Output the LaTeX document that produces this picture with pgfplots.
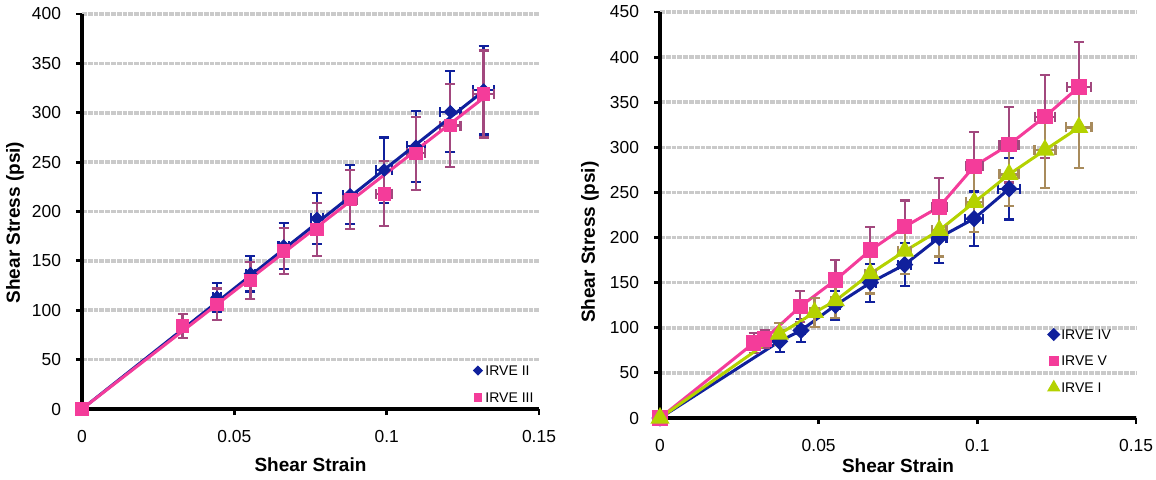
\documentclass[border=0pt]{standalone}
\usepackage{fontspec}
\setmainfont{Liberation Sans}
\usepackage{pgfplots}
\pgfplotsset{compat=1.18}
\definecolor{cblue}{HTML}{10209C}
\definecolor{cpink}{HTML}{F43C9A}
\definecolor{cgreen}{HTML}{B4D200}
\definecolor{ebpink}{HTML}{A2487E}
\definecolor{ebtan}{HTML}{A88B5C}
\definecolor{gridc}{HTML}{CACACA}

\pgfplotstableread{
x y ex ey
0 0 0 0
0.0443 113 0.0012 15
0.0553 137 0.0014 18
0.0662 165 0.0017 23
0.0771 193 0.0020 26
0.0880 217 0.0023 30
0.0992 242 0.0026 33
0.1096 266 0.0029 36
0.1209 301 0.0033 41
0.1318 323 0.0035 45
}\irveII
\pgfplotstableread{
x y ex ey
0 0 0 0
0.0330 84 0.0010 12
0.0443 106 0.0012 16
0.0553 130 0.0014 19
0.0662 160 0.0017 23
0.0771 182 0.0020 27
0.0880 212 0.0023 30
0.0992 218 0.0026 33
0.1096 259 0.0029 37
0.1209 287 0.0033 42
0.1318 319 0.0035 44
}\irveIII
\pgfplotstableread{
x y ex ey
0 0 0 0
0.0377 85 0.0010 12
0.0444 97 0.0012 13
0.0553 125 0.0014 16
0.0663 150 0.0017 21
0.0771 170 0.0020 24
0.0880 200 0.0023 28
0.0990 221 0.0029 30
0.1100 254 0.0035 34
}\irveIV
\pgfplotstableread{
x y ex ey
0 0 0 0
0.0295 83 0.0010 11
0.0330 87.6 0.0010 10
0.0442 123.5 0.0012 17
0.0553 153 0.0015 22
0.0663 186 0.0018 26
0.0771 212 0.0020 29
0.0880 234 0.0023 32
0.0990 279 0.0027 38
0.1100 303 0.0030 42
0.1213 334 0.0032 46
0.1320 367 0.0038 50
}\irveV
\pgfplotstableread{
x y ex ey
0 0 0 0
0.0376 93 0.0010 12
0.0487 117 0.0013 16
0.0553 130 0.0015 19
0.0663 160 0.0018 22
0.0771 185 0.0020 25
0.0880 208 0.0023 29
0.0990 239 0.0027 33
0.1100 270 0.0030 35
0.1213 297 0.0033 42
0.1320 322 0.0040 45
}\irveI

\pgfplotsset{
 myax/.style={
  scale only axis,
  axis x line=bottom, axis y line=left,
  axis line style={-, line width=1.7pt, black},
  tick align=outside, major tick length=3pt,
  tick style={line width=1.4pt, black},
  xmin=0, xmax=0.15, ymin=0,
  xtick={0,0.05,0.1,0.15}, xticklabels={0,0.05,0.1,0.15},
  ymajorgrids,
  major grid style={line width=1.8pt, gridc, dash pattern=on 2.4pt off 0.5pt},
  tick label style={font=\fontsize{8.7}{10}\selectfont},
  /pgf/number format/assume math mode=true,
  yticklabel style={xshift=-4pt},
  xticklabel style={yshift=-4pt},
  label style={font=\bfseries\fontsize{9.5}{11}\selectfont},
  legend style={draw=none, fill=none, font=\fontsize{7}{8}\selectfont,
    anchor=north west, row sep=8.5pt, column sep=1.5pt, inner sep=0pt,
    nodes={inner sep=0pt, text height=5pt, text depth=0pt}},
  legend cell align=left,
  legend image code/.code={\draw[##1] plot[only marks] coordinates {(0cm,0cm)};},
  clip=false,
  error bars/y dir=both, error bars/y explicit,
  error bars/x dir=both, error bars/x explicit,
 },
 ebstyle/.style={error bars/error bar style={line width=1.1pt, #1},
   error bars/error mark options={line width=1.1pt, #1, mark size=2.5pt, rotate=90}},
}

\begin{document}
\begin{tikzpicture}
\useasboundingbox (0,0) rectangle (578pt,239.5pt);
% left chart
\begin{axis}[myax, at={(41pt,35pt)}, anchor=south west,
  width=228.5pt, height=197.5pt, ymax=400, ytick={0,50,...,400},
  xlabel={Shear Strain}, ylabel={Shear Stress (psi)},
  xlabel style={at={(axis description cs:0.5,0)}, yshift=-28pt, anchor=center},
  ylabel style={at={(axis description cs:-0.1466,0.472)}, anchor=center},
  legend style={at={(rel axis cs:0.8556,0.111)}},
]
\addplot[only marks, mark=square*, mark options={rotate=45}, mark size=2.2pt, cblue, ebstyle=cblue,
  legend image post style={mark size=1.6pt}]
  table[x=x, y=y, x error=ex, y error=ey] {\irveII};
\addlegendentry{IRVE II}
\addplot[only marks, mark=square*, mark size=3.1pt, cpink, ebstyle=ebpink,
  legend image post style={mark size=1.9pt}]
  table[x=x, y=y, x error=ex, y error=ey] {\irveIII};
\addlegendentry{IRVE III}
\addplot[forget plot, cblue, line width=1.5pt, no marks, error bars/.cd, y dir=none, x dir=none]
  coordinates {(0,0) (0.1318,322)};
\addplot[forget plot, cpink, line width=1.5pt, no marks, error bars/.cd, y dir=none, x dir=none]
  coordinates {(0,0) (0.1318,315)};
\end{axis}
% right chart
\begin{axis}[myax, at={(330pt,30.5pt)}, anchor=south west,
  width=238pt, height=203pt, ymax=450, ytick={0,50,...,450},
  xlabel={Shear Strain}, ylabel={Shear Stress (psi)},
  xlabel style={at={(axis description cs:0.5,0)}, yshift=-24pt, anchor=center},
  ylabel style={at={(axis description cs:-0.147,0.433)}, anchor=center},
  legend style={at={(rel axis cs:0.817,0.219)}, row sep=8.25pt},
]
\addplot[mark=square*, mark options={rotate=45}, mark size=2.3pt, cblue, line width=1.5pt, ebstyle=cblue,
  legend image post style={mark size=1.6pt}]
  table[x=x, y=y, x error=ex, y error=ey] {\irveIV};
\addlegendentry{IRVE IV}
\addplot[mark=square*, mark size=3.1pt, cpink, line width=1.5pt, ebstyle=ebpink,
  legend image post style={mark size=1.9pt}]
  table[x=x, y=y, x error=ex, y error=ey] {\irveV};
\addlegendentry{IRVE V}
\addplot[mark=triangle*, mark size=4pt, cgreen, line width=1.5pt, ebstyle=ebtan,
  legend image post style={mark size=2.4pt}]
  table[x=x, y=y, x error=ex, y error=ey] {\irveI};
\addlegendentry{IRVE I}
\end{axis}
\end{tikzpicture}
\end{document}
